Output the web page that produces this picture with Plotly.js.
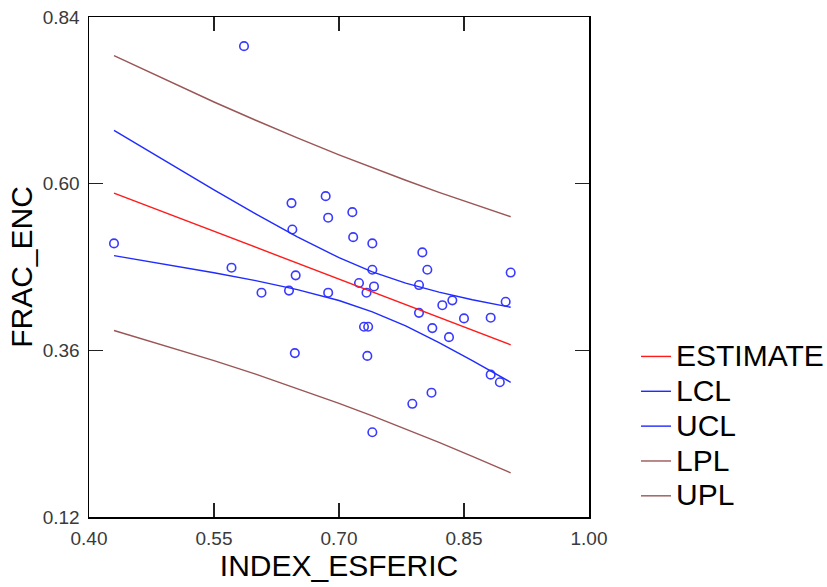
<!DOCTYPE html>
<html>
<head>
<meta charset="utf-8">
<script src="https://cdn.plot.ly/plotly-3.0.1.min.js"></script>
<style>
  html, body { margin: 0; padding: 0; background: #fff; }
  #chart { width: 827px; height: 587px; }
</style>
</head>
<body>
<div id="chart"></div>
<script>
// Observations: INDEX_ESFERIC vs FRAC_ENC
const indexEsferic = [
  0.586, 0.430, 0.571, 0.607, 0.640, 0.648, 0.647, 0.687, 0.717, 0.740,
  0.800, 0.806, 0.906, 0.740, 0.724, 0.742, 0.733, 0.796, 0.836, 0.824,
  0.900, 0.796, 0.850, 0.882, 0.730, 0.735, 0.812, 0.832, 0.734, 0.882,
  0.893, 0.811, 0.788, 0.740, 0.643, 0.684, 0.687, 0.716, 0.644
];
const fracEnc = [
  0.798, 0.514, 0.479, 0.443, 0.446, 0.468, 0.356, 0.443, 0.523, 0.514,
  0.501, 0.476, 0.472, 0.476, 0.457, 0.452, 0.443, 0.454, 0.432, 0.425,
  0.430, 0.414, 0.406, 0.407, 0.394, 0.394, 0.392, 0.379, 0.352, 0.325,
  0.314, 0.299, 0.283, 0.242, 0.572, 0.582, 0.551, 0.559, 0.534
];

// Fitted line with confidence (LCL/UCL) and prediction (LPL/UPL) limits
const fitX     = [0.430, 0.500, 0.550, 0.600, 0.650, 0.700, 0.740, 0.780, 0.820, 0.860, 0.906];
const estimate = [0.5865, 0.5544, 0.5314, 0.5085, 0.4855, 0.4626, 0.4442, 0.4259, 0.4075, 0.3891, 0.3680];
const lcl      = [0.4964, 0.4823, 0.4717, 0.4604, 0.4475, 0.4318, 0.4154, 0.3951, 0.3712, 0.3453, 0.3140];
const ucl      = [0.6766, 0.6265, 0.5911, 0.5566, 0.5235, 0.4934, 0.4730, 0.4567, 0.4438, 0.4329, 0.4220];
const lpl      = [0.3885, 0.3639, 0.3452, 0.3257, 0.3052, 0.2836, 0.2655, 0.2469, 0.2275, 0.2074, 0.1836];
const upl      = [0.7845, 0.7449, 0.7176, 0.6913, 0.6658, 0.6416, 0.6229, 0.6049, 0.5875, 0.5708, 0.5524];

const xTicks = [0.40, 0.55, 0.70, 0.85, 1.00];
const yTicks = [0.12, 0.36, 0.60, 0.84];

const RED = '#ff1a1a';
const BLUE = '#1f2bff';
const BROWN = '#9a5656';
const FONT = '"Liberation Sans", Arial, sans-serif';

// Legend rows are spaced from the legend font size; the label itself is drawn larger.
function legendLabel(text) {
  return '<span style="font-size:30px">' + text + '</span>';
}

function band(name, y, color) {
  return {
    x: fitX, y: y, name: legendLabel(name), type: 'scatter', mode: 'lines',
    line: { color: color, width: 1.4 }, hoverinfo: 'skip'
  };
}

const traces = [
  {
    x: indexEsferic, y: fracEnc, type: 'scatter', mode: 'markers',
    showlegend: false,
    marker: { symbol: 'circle-open', size: 8.5, color: '#3a3aff', line: { width: 1.6, color: '#3a3aff' } }
  },
  band('ESTIMATE', estimate, RED),
  band('LCL', lcl, BLUE),
  band('UCL', ucl, BLUE),
  band('LPL', lpl, BROWN),
  band('UPL', upl, BROWN)
];

const axisCommon = {
  showgrid: false, zeroline: false,
  showline: true, linecolor: '#000', linewidth: 1.5,
  mirror: 'allticks', ticks: 'inside', ticklen: 14, tickwidth: 1.5, tickcolor: '#222',
  tickfont: { family: FONT, size: 19, color: '#3a3a3a' }
};

const layout = {
  width: 827, height: 587,
  margin: { l: 89, r: 238, t: 17, b: 70, autoexpand: false },
  paper_bgcolor: '#fff', plot_bgcolor: '#fff',
  font: { family: FONT, color: '#000' },
  showlegend: true,
  legend: {
    x: 1.094, xanchor: 'left', y: 0.366, yanchor: 'top',
    font: { family: FONT, size: 24.5, color: '#000' },
    bgcolor: 'rgba(0,0,0,0)', tracegroupgap: 0
  },
  xaxis: Object.assign({}, axisCommon, {
    range: [0.40, 1.00], tickvals: xTicks, ticktext: xTicks.map(v => v.toFixed(2)),
    ticklabelstandoff: 4,
    title: { text: 'INDEX_ESFERIC', font: { family: FONT, size: 30, color: '#000' }, standoff: 4 }
  }),
  yaxis: Object.assign({}, axisCommon, {
    range: [0.12, 0.84], tickvals: yTicks, ticktext: yTicks.map(v => v.toFixed(2)),
    ticklabelstandoff: 4,
    title: { text: 'FRAC_ENC', font: { family: FONT, size: 30, color: '#000' }, standoff: 1 }
  })
};

Plotly.newPlot('chart', traces, layout, { displayModeBar: false, staticPlot: true });
</script>
</body>
</html>
